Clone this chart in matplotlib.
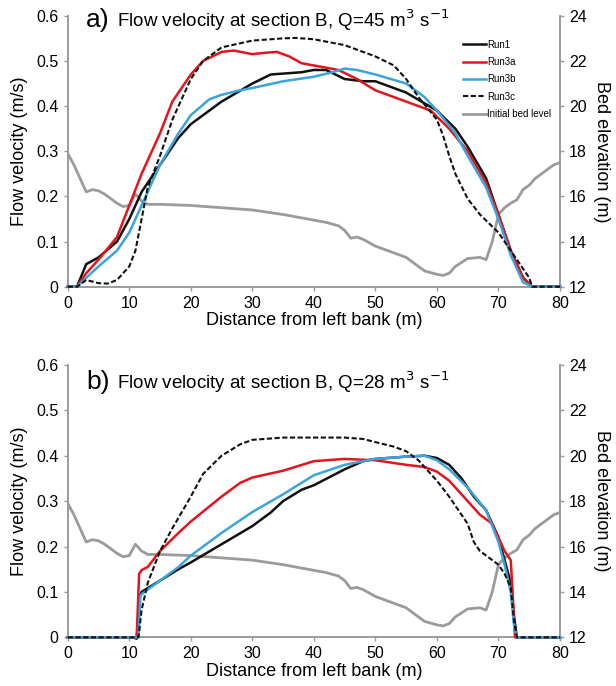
import matplotlib
matplotlib.use('Agg')
import matplotlib.pyplot as plt
from matplotlib.lines import Line2D

plt.rcParams['font.family'] = ['Liberation Sans', 'DejaVu Sans']

# initial bed level (same for both panels)
bed_x = [0, 1, 2, 3, 4, 5, 6, 8, 9, 10, 11, 12, 13, 15, 20, 25, 30, 35, 40, 42, 44, 45, 46, 47, 48,
         50, 55, 58, 60, 61, 62, 63, 65, 67, 68, 69, 70, 71, 72, 73, 74, 75, 76, 77, 78, 79, 80]
bed_z = [17.9, 17.4, 16.8, 16.2, 16.3, 16.25, 16.1, 15.7, 15.55, 15.6, 16.1, 15.8, 15.65, 15.65,
         15.6, 15.5, 15.4, 15.2, 14.95, 14.85, 14.7, 14.5, 14.15, 14.2, 14.1, 13.8, 13.3, 12.7,
         12.55, 12.5, 12.6, 12.9, 13.25, 13.3, 13.2, 14.0, 15.2, 15.5, 15.7, 15.85, 16.3, 16.5,
         16.8, 17.0, 17.2, 17.4, 17.5]

# panel a, Q=45
a_run1_x = [0, 1.5, 3, 5, 8, 10, 12, 15, 18, 20, 25, 30, 33, 35, 38, 40, 42, 45, 48, 50, 55, 60,
            63, 65, 68, 70, 72, 74, 75.5, 80]
a_run1_v = [0, 0, 0.05, 0.065, 0.10, 0.15, 0.21, 0.27, 0.33, 0.36, 0.41, 0.45, 0.47, 0.472, 0.475,
            0.48, 0.48, 0.46, 0.455, 0.455, 0.43, 0.39, 0.35, 0.31, 0.24, 0.16, 0.08, 0.02, 0, 0]
a_run3a_x = [0, 1.5, 3, 5, 8, 10, 12, 15, 17, 20, 22, 25, 27, 30, 32, 34, 36, 38, 40, 44, 47, 50,
             55, 59, 62, 65, 68, 70, 72, 74, 75.5, 80]
a_run3a_v = [0, 0, 0.03, 0.06, 0.11, 0.18, 0.25, 0.34, 0.41, 0.47, 0.50, 0.52, 0.523, 0.515, 0.518,
             0.52, 0.51, 0.495, 0.49, 0.48, 0.46, 0.435, 0.41, 0.39, 0.35, 0.30, 0.23, 0.16, 0.08,
             0.02, 0, 0]
a_run3b_x = [0, 1.5, 3, 5, 8, 10, 12, 15, 18, 20, 23, 25, 28, 30, 35, 40, 43, 45, 47, 50, 55, 58,
             60, 63, 65, 68, 70, 72, 74, 75.5, 80]
a_run3b_v = [0, 0, 0.02, 0.045, 0.08, 0.12, 0.18, 0.27, 0.34, 0.38, 0.415, 0.425, 0.435, 0.44,
             0.455, 0.465, 0.475, 0.483, 0.48, 0.47, 0.45, 0.42, 0.39, 0.34, 0.29, 0.22, 0.15,
             0.07, 0.01, 0, 0]
a_run3c_x = [0, 1.5, 3, 5, 6.5, 8, 10, 11, 12, 13, 15, 17, 20, 22, 25, 30, 35, 37, 40, 45, 50, 53,
             55, 57, 60, 61, 62, 63, 65, 67, 70, 72, 74, 75, 75.5, 80]
a_run3c_v = [0, 0, 0.015, 0.008, 0.007, 0.015, 0.045, 0.08, 0.15, 0.22, 0.29, 0.37, 0.46, 0.50,
             0.53, 0.545, 0.55, 0.551, 0.548, 0.535, 0.51, 0.49, 0.46, 0.42, 0.37, 0.335, 0.29,
             0.25, 0.195, 0.16, 0.12, 0.08, 0.04, 0.02, 0, 0]

# panel b, Q=28
b_run1_x = [0, 10.5, 11.2, 11.7, 12, 15, 18, 20, 25, 30, 33, 35, 38, 40, 45, 48, 50, 55, 58, 60,
            62, 64, 66, 68, 70, 71, 72, 72.5, 73, 80]
b_run1_v = [0, 0, -0.003, 0.09, 0.10, 0.125, 0.15, 0.165, 0.205, 0.245, 0.275, 0.30, 0.325, 0.335,
            0.37, 0.388, 0.393, 0.398, 0.40, 0.395, 0.38, 0.35, 0.31, 0.28, 0.22, 0.17, 0.12,
            0.05, 0, 0]
b_run3a_x = [0, 11.2, 11.6, 12, 13, 15, 18, 20, 25, 28, 30, 35, 40, 45, 50, 55, 58, 60, 62, 65,
             67, 68, 69, 70, 71, 72, 72.3, 72.7, 80]
b_run3a_v = [0, 0, 0.14, 0.148, 0.155, 0.19, 0.23, 0.255, 0.31, 0.34, 0.352, 0.367, 0.388, 0.393,
             0.39, 0.38, 0.375, 0.365, 0.345, 0.30, 0.27, 0.26, 0.25, 0.22, 0.19, 0.17, 0.10, 0, 0]
b_run3b_x = [0, 11.5, 11.8, 12, 15, 18, 20, 25, 30, 35, 40, 45, 50, 55, 58, 60, 62, 65, 68, 70,
             71, 72, 72.5, 73, 80]
b_run3b_v = [0, 0, 0.09, 0.095, 0.125, 0.155, 0.18, 0.23, 0.276, 0.315, 0.357, 0.38, 0.393,
             0.398, 0.40, 0.39, 0.37, 0.33, 0.28, 0.21, 0.16, 0.10, 0.03, 0, 0]
b_run3c_x = [0, 11.5, 12, 13, 15, 17, 20, 22, 25, 28, 30, 35, 40, 45, 48, 50, 53, 55, 57, 60, 62,
             65, 66, 67, 68, 70, 71, 72, 72.5, 73, 80]
b_run3c_v = [0, 0, 0.06, 0.12, 0.19, 0.24, 0.31, 0.36, 0.40, 0.425, 0.435, 0.44, 0.44, 0.44,
             0.437, 0.43, 0.42, 0.41, 0.39, 0.345, 0.31, 0.25, 0.21, 0.19, 0.18, 0.16, 0.14,
             0.11, 0.04, 0, 0]

c_black = '#111111'
c_red = '#e3141c'
c_blue = '#3aa4dc'
c_grey = '#9b9b9b'
dash = (0, (2.5, 1.2))

fig = plt.figure(figsize=(6.16, 6.86), dpi=100)
ax_a = fig.add_axes([0.110, 0.582, 0.799, 0.395])
ax_b = fig.add_axes([0.110, 0.071, 0.799, 0.397])

panels = [
    (ax_a, 'a)', '45', 0.985, [(a_run1_x, a_run1_v), (a_run3a_x, a_run3a_v),
                               (a_run3b_x, a_run3b_v), (a_run3c_x, a_run3c_v)]),
    (ax_b, 'b)', '28', 0.9375, [(b_run1_x, b_run1_v), (b_run3a_x, b_run3a_v),
                                (b_run3b_x, b_run3b_v), (b_run3c_x, b_run3c_v)]),
]

for ax, tag, q, ty, runs in panels:
    ax2 = ax.twinx()
    # bed level sits underneath the velocity curves
    ax.set_zorder(ax2.get_zorder() + 1)
    ax.patch.set_visible(False)
    ax2.plot(bed_x, bed_z, color=c_grey, lw=2)
    ax2.set_ylim(12, 24)
    ax2.set_yticks(range(12, 25, 2))
    ax2.set_ylabel('Bed elevation (m)', rotation=270, fontsize=13, labelpad=17)

    ax.plot(runs[0][0], runs[0][1], color=c_black, lw=1.8, clip_on=False, zorder=3)
    ax.plot(runs[1][0], runs[1][1], color=c_red, lw=1.8, clip_on=False, zorder=3)
    ax.plot(runs[2][0], runs[2][1], color=c_blue, lw=1.8, clip_on=False, zorder=3)
    ax.plot(runs[3][0], runs[3][1], color=c_black, lw=1.5, ls=dash, clip_on=False, zorder=3)

    ax.set_xlim(0, 80)
    ax.set_ylim(0, 0.6)
    ax.set_xticks(range(0, 81, 10))
    ax.set_yticks([0, 0.1, 0.2, 0.3, 0.4, 0.5, 0.6])
    ax.set_yticklabels(['0', '0.1', '0.2', '0.3', '0.4', '0.5', '0.6'])
    ax.set_xlabel('Distance from left bank (m)', fontsize=13, labelpad=1)
    ax.set_ylabel('Flow velocity (m/s)', fontsize=13, labelpad=6)

    for a in (ax, ax2):
        a.spines['top'].set_visible(False)
        for s in ('left', 'right', 'bottom'):
            a.spines[s].set_color(c_grey)
            a.spines[s].set_linewidth(1.2)
        a.tick_params(colors=c_grey, labelcolor='black', labelsize=11.5, length=3, width=1)

    ax.text(0.037, ty, tag, transform=ax.transAxes, fontsize=19, va='center', ha='left')
    ax.text(0.1, ty, 'Flow velocity at section B, Q=' + q + ' m$^3$ s$^{-1}$',
            transform=ax.transAxes, fontsize=13.5, va='center', ha='left')

handles = [Line2D([], [], color=c_black, lw=1.8),
           Line2D([], [], color=c_red, lw=1.8),
           Line2D([], [], color=c_blue, lw=1.8),
           Line2D([], [], color=c_black, lw=1.5, ls=dash),
           Line2D([], [], color=c_grey, lw=2)]
labels = ['Run1', 'Run3a', 'Run3b', 'Run3c', 'Initial bed level']
fig.legend(handles, labels, loc='upper left', bbox_to_anchor=(0.752, 0.942),
           fontsize=7, frameon=False, handlelength=2.3, handletextpad=0.15,
           labelspacing=0.75, borderaxespad=0, borderpad=0)

fig.savefig('out.png', dpi=100)
